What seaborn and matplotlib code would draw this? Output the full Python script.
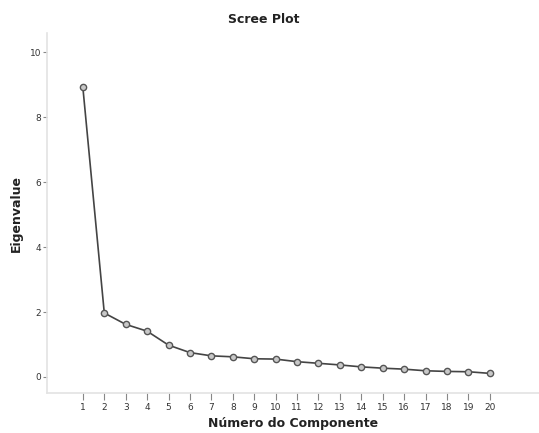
import numpy as np
import pandas as pd
import matplotlib
matplotlib.use("Agg")
import matplotlib.pyplot as plt
import seaborn as sns

# valores
componentes = list(range(1, 21))
eigenvalues = [8.92, 1.97, 1.62, 1.41, 0.98, 0.75, 0.65, 0.62, 0.56, 0.55,
               0.47, 0.42, 0.37, 0.31, 0.27, 0.24, 0.19, 0.17, 0.16, 0.11]
y_ticks = [0, 2, 4, 6, 8, 10]

df = pd.DataFrame({"componente": componentes, "eigenvalue": eigenvalues})

sns.set_style("white", {"xtick.bottom": True, "ytick.left": True})
plt.rcParams['font.family'] = ['DejaVu Sans']

fig = plt.figure(figsize=(5.39, 4.33), dpi=100)
ax = fig.add_axes([0.087, 0.092, 0.913, 0.832])

sns.lineplot(data=df, x="componente", y="eigenvalue", ax=ax,
             color="#444444", linewidth=1.2, marker="o", markersize=4.5,
             markerfacecolor="#c8c8c8", markeredgecolor="#555555",
             markeredgewidth=1.0)

ax.set_xlim(-0.68, 22.3)
ax.set_ylim(-0.5, 10.6)
ax.set_xticks(componentes)
ax.set_xticklabels([str(c) for c in componentes])
ax.set_yticks(y_ticks)

for s in ["top", "right"]:
    ax.spines[s].set_visible(False)
for s in ["left", "bottom"]:
    ax.spines[s].set_color("#e3e3e3")
    ax.spines[s].set_linewidth(1.2)

ax.tick_params(axis="x", direction="out", length=5, width=0.8,
               color="#888888", labelsize=6.5, labelcolor="#333333", pad=2)
ax.tick_params(axis="y", direction="out", length=3, width=0.8,
               color="#888888", labelsize=6.5, labelcolor="#333333", pad=1)

ax.set_xlabel("Número do Componente", fontsize=9, fontweight="bold",
              color="#222222", labelpad=4)
ax.set_ylabel("Eigenvalue", fontsize=9, fontweight="bold",
              color="#222222", labelpad=5)
fig.text(0.49, 0.955, "Scree Plot", ha="center", va="center",
         fontsize=9, fontweight="bold", color="#222222")

fig.savefig("out.png", dpi=100)
